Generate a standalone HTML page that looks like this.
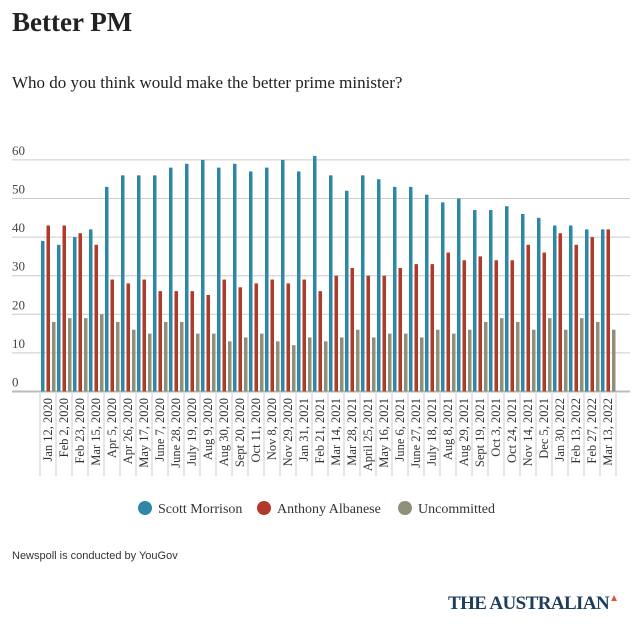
<!DOCTYPE html>
<html><head><meta charset="utf-8">
<style>
body{margin:0;background:#fff;width:639px;height:627px;overflow:hidden;position:relative;font-family:"Liberation Serif",serif;}
.t{position:absolute;white-space:nowrap;}
</style></head><body>
<div class="t" style="left:12px;top:7px;font-size:27px;font-weight:bold;color:#222;">Better PM</div>
<div class="t" style="left:12px;top:73px;font-size:17px;color:#222;">Who do you think would make the better prime minister?</div>
<svg id="chart" width="639" height="540" style="position:absolute;left:0;top:0"></svg>
<div class="t" style="left:12px;top:550px;font-size:11px;font-family:'Liberation Sans',sans-serif;color:#333;">Newspoll is conducted by YouGov</div>
<div class="t" style="left:448px;top:593px;font-size:19px;font-weight:bold;color:#1d3d5c;letter-spacing:-0.6px;">THE AUSTRALIAN<span style="color:#e0523a;font-size:10px;vertical-align:top;">&#9650;</span></div>
<script>
const categories=["Jan 12, 2020","Feb 2, 2020","Feb 23, 2020","Mar 15, 2020","Apr 5, 2020","Apr 26, 2020","May 17, 2020","June 7, 2020","June 28, 2020","July 19, 2020","Aug 9, 2020","Aug 30, 2020","Sept 20, 2020","Oct 11, 2020","Nov 8, 2020","Nov 29, 2020","Jan 31, 2021","Feb 21, 2021","Mar 14, 2021","Mar 28, 2021","April 25, 2021","May 16, 2021","June 6, 2021","June 27, 2021","July 18, 2021","Aug 8, 2021","Aug 29, 2021","Sept 19, 2021","Oct 3, 2021","Oct 24, 2021","Nov 14, 2021","Dec 5, 2021","Jan 30, 2022","Feb 13, 2022","Feb 27, 2022","Mar 13, 2022"];
const morrison=[39,38,40,42,53,56,56,56,58,59,60,58,59,57,58,60,57,61,56,52,56,55,53,53,51,49,50,47,47,48,46,45,43,43,42,42];
const albanese=[43,43,41,38,29,28,29,26,26,26,25,29,27,28,29,28,29,26,30,32,30,30,32,33,33,36,34,35,34,34,38,36,41,38,40,42];
const uncommitted=[18,19,19,20,18,16,15,18,18,15,15,13,14,15,13,12,14,13,14,16,14,15,15,14,16,15,16,18,19,18,16,19,16,19,18,16];
const yTicks=[0,10,20,30,40,50,60];
const seriesNames=["Scott Morrison","Anthony Albanese","Uncommitted"];
const colors=["#2f87a6","#b23a2a","#8f8f7a"];
const NS="http://www.w3.org/2000/svg";
const svg=document.getElementById('chart');
const y=v=>391.5-v*3.86;
const x0=i=>40+i*16;
function mk(t,a){const e=document.createElementNS(NS,t);for(const k in a)e.setAttribute(k,a[k]);svg.appendChild(e);return e;}
yTicks.forEach(v=>{
  const g=mk('line',{x1:12,x2:630,y1:y(v),y2:y(v),stroke:v===0?'#bbb':'#ccc','stroke-width':v===0?2:1});
  
  
  const t=mk('text',{x:12,y:y(v)-5,'font-size':13,fill:'#444','font-family':'Liberation Serif, serif'});
  t.textContent=v;
  
  
});
[morrison,albanese,uncommitted].forEach((arr,s)=>{
  arr.forEach((v,i)=>{
    const r=mk('rect',{x:x0(i)+1+s*5.5,y:y(v),width:3.5,height:391.5-y(v),fill:colors[s]});
    
    
  });
});
categories.forEach((c,i)=>{
  const l=mk('line',{x1:x0(i),x2:x0(i),y1:393,y2:476,stroke:'#ccc','stroke-width':1});
  
  
  const cx=x0(i)+12;
  const t=mk('text',{x:cx,y:398,'font-size':12.5,fill:'#333','text-anchor':'end','font-family':'Liberation Serif, serif',transform:`rotate(-90 ${cx} 398)`});
  t.textContent=c;
  
  
});
const ll=mk('line',{x1:x0(36),x2:x0(36),y1:393,y2:476,stroke:'#ccc','stroke-width':1});


const lx=[145,264,405];
seriesNames.forEach((n,s)=>{
  const c=mk('circle',{cx:lx[s],cy:508,r:7,fill:colors[s]});
  
  
  const t=mk('text',{x:lx[s]+13,y:513,'font-size':14,fill:'#333','font-family':'Liberation Serif, serif'});
  t.textContent=n;
  
  
});
</script>
</body></html>
